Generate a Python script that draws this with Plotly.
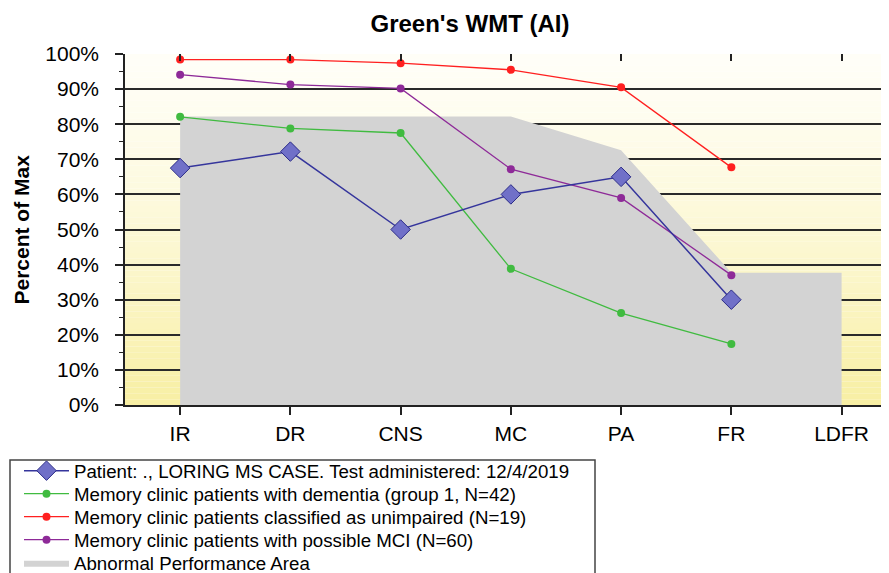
import plotly.graph_objects as go

categories = ["IR", "DR", "CNS", "MC", "PA", "FR", "LDFR"]
patient = [67.5, 72.2, 50.0, 60.0, 65.0, 30.0, None]
dementia = [82.1, 78.8, 77.5, 38.8, 26.2, 17.4, None]
unimpaired = [98.4, 98.4, 97.4, 95.5, 90.5, 67.7, None]
mci = [94.1, 91.3, 90.2, 67.2, 59.0, 37.0, None]
abnormal_area = [82.2, 82.2, 82.2, 82.2, 72.6, 37.7, 37.7]

legend_names = [
    "Patient: ., LORING MS CASE. Test administered: 12/4/2019",
    "Memory clinic patients with dementia (group 1, N=42)",
    "Memory clinic patients classified as unimpaired (N=19)",
    "Memory clinic patients with possible MCI (N=60)",
    "Abnormal Performance Area",
]
y_tick_vals = [0, 10, 20, 30, 40, 50, 60, 70, 80, 90, 100]
y_tick_text = ["0%", "10%", "20%", "30%", "40%", "50%", "60%", "70%", "80%", "90%", "100%"]

FONT = "Liberation Sans, Arial, sans-serif"

# page is drawn with an 8px body margin: work in figure pixels
OFF = 8
W, H = 889 - OFF, 573 - OFF
L, T = 125 - OFF, 54 - OFF
BOTTOM = 405 - OFF
PW = W - L
PH = BOTTOM - T


def px_x(x):
    return (x - OFF - L) / PW


def px_y(y):
    return (BOTTOM - (y - OFF)) / PH


fig = go.Figure()

fig.add_trace(go.Scatter(
    x=categories, y=abnormal_area, mode="lines", fill="tozeroy",
    fillcolor="#D3D3D3", line=dict(width=0, color="#D3D3D3"),
    name=legend_names[4], legend="legend5", hoverinfo="skip",
))
fig.add_trace(go.Scatter(
    x=categories, y=unimpaired, mode="lines+markers", name=legend_names[2],
    line=dict(color="#FF2020", width=1.3), marker=dict(symbol="circle", size=8, color="#FF2020"),
    legend="legend3",
))
fig.add_trace(go.Scatter(
    x=categories, y=mci, mode="lines+markers", name=legend_names[3],
    line=dict(color="#8E2A98", width=1.3), marker=dict(symbol="circle", size=8, color="#8E2A98"),
    legend="legend4",
))
fig.add_trace(go.Scatter(
    x=categories, y=dementia, mode="lines+markers", name=legend_names[1],
    line=dict(color="#40BB40", width=1.3), marker=dict(symbol="circle", size=8, color="#40BB40"),
    legend="legend2",
))
fig.add_trace(go.Scatter(
    x=categories, y=patient, mode="lines+markers", name=legend_names[0],
    line=dict(color="#35359C", width=1.5),
    marker=dict(symbol="diamond", size=15, color="#7070C8",
                line=dict(color="#2C2C88", width=1)),
    legend="legend",
))

# gradient background bands (decoration)
n = 60
top = (255, 254, 247)
bot = (248, 239, 164)
for i in range(n):
    t = i / (n - 1)
    t2 = t ** 1.3
    c = tuple(int(round(top[k] + (bot[k] - top[k]) * t2)) for k in range(3))
    y1 = 1 - i / n
    y0 = 1 - (i + 1) / n
    fig.add_shape(type="rect", xref="paper", yref="paper", x0=0, x1=1, y0=y0, y1=y1,
                  line=dict(width=0), fillcolor="rgb(%d,%d,%d)" % c, layer="below")

# legend frame
fig.add_shape(type="rect", xref="paper", yref="paper",
              x0=px_x(10), x1=px_x(595), y0=px_y(590), y1=px_y(460),
              line=dict(color="#444", width=1.5), fillcolor="rgba(0,0,0,0)", layer="above")

row_centers = [471, 494, 517, 540, 563]
legend_common = dict(xanchor="left", yanchor="middle", bgcolor="rgba(0,0,0,0)",
                     borderwidth=0, itemwidth=45,
                     font=dict(size=18.7, family=FONT, color="black"))
legend_layout = {}
for i, yc in enumerate(row_centers):
    key = "legend" if i == 0 else "legend%d" % (i + 1)
    legend_layout[key] = dict(x=px_x(19), y=px_y(yc), **legend_common)

fig.update_layout(
    width=W, height=H,
    margin=dict(l=L, r=0, t=T, b=H - BOTTOM, autoexpand=False),
    paper_bgcolor="white", plot_bgcolor="rgba(0,0,0,0)",
    font=dict(family=FONT, color="black"),
    title=dict(text="<b>Green's WMT (AI)</b>", x=(470 - OFF) / W, xanchor="center",
               xref="container", y=1 - (24 - OFF) / H, yanchor="middle", yref="container",
               font=dict(size=24, family=FONT, color="black")),
    showlegend=True,
    xaxis=dict(
        type="category", categoryorder="array", categoryarray=categories,
        range=[-0.5, 6.43], showgrid=False, zeroline=False,
        showline=True, linecolor="#222", linewidth=1.5,
        ticks="outside", ticklen=8, tickcolor="#222", tickwidth=1.5,
        tickfont=dict(size=21, family=FONT, color="black"), ticklabelstandoff=1,
    ),
    xaxis2=dict(
        type="category", categoryorder="array", categoryarray=categories,
        overlaying="x", side="top", matches="x", range=[-0.5, 6.43],
        showgrid=False, zeroline=False, showline=False,
        ticks="inside", ticklen=7, tickcolor="#222", tickwidth=1.5,
        showticklabels=False,
    ),
    yaxis=dict(
        range=[0, 100], tickmode="array", tickvals=y_tick_vals, ticktext=y_tick_text,
        showgrid=True, gridcolor="#2a2a2a", gridwidth=1.6, zeroline=False,
        showline=True, linecolor="#222", linewidth=1.5,
        ticks="outside", ticklen=8, tickcolor="#222", tickwidth=1.5,
        tickfont=dict(size=21, family=FONT, color="black"), ticklabelstandoff=12,
        minor=dict(tickmode="array", tickvals=[5, 15, 25, 35, 45, 55, 65, 75, 85, 95],
                   ticks="outside", ticklen=4, tickcolor="#222", tickwidth=1.3, showgrid=False),
    ),
    annotations=[dict(text="<b>Percent of Max</b>", textangle=-90, x=px_x(21), y=0.5,
                      xref="paper", yref="paper", showarrow=False,
                      font=dict(size=21, family=FONT, color="black"),
                      xanchor="center", yanchor="middle")],
    **legend_layout,
)
fig.add_trace(go.Scatter(x=categories, y=[None] * len(categories), xaxis="x2",
                         showlegend=False, hoverinfo="skip", mode="lines"))

fig.write_html("out.html")
